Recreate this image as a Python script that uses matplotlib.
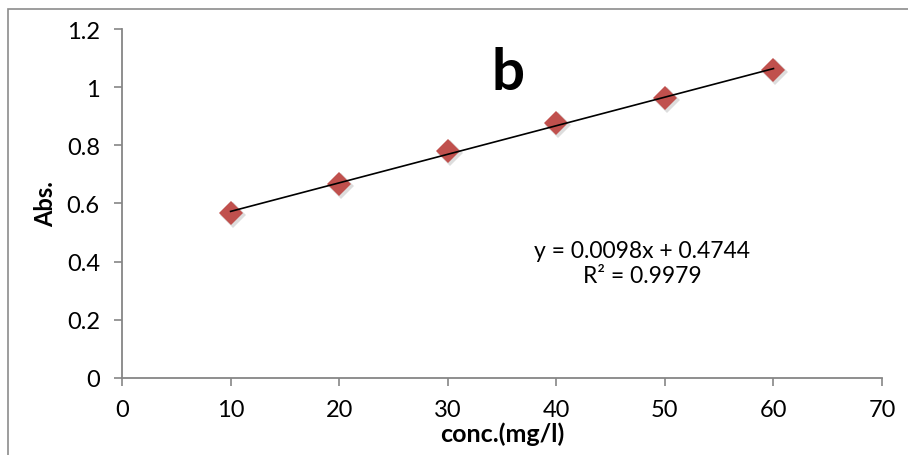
import numpy as np
from matplotlib import pyplot as plt
from matplotlib.patches import Rectangle
from matplotlib.transforms import ScaledTranslation

plt.rcParams['font.family'] = ['Lato', 'DejaVu Sans']

# data
conc = [10, 20, 30, 40, 50, 60]
absorb = [0.567, 0.667, 0.779, 0.877, 0.962, 1.058]
x_ticks = [0, 10, 20, 30, 40, 50, 60, 70]
y_ticks = [0, 0.2, 0.4, 0.6, 0.8, 1.0, 1.2]
y_labels = ['0', '0.2', '0.4', '0.6', '0.8', '1', '1.2']
eq_text = 'y = 0.0098x + 0.4744\nR² = 0.9979'

fig = plt.figure(figsize=(9.08, 4.56), dpi=100)
ax = fig.add_axes([0.1344, 0.1689, 0.837, 0.7653])

# outer chart border
fig.patches.append(Rectangle((8 / 908, -0.1), 1.2, 1 - 10 / 456 + 0.1,
                             transform=fig.transFigure, fill=False,
                             edgecolor='#8c8c8c', linewidth=1.2))

# linear trendline
k, b = np.polyfit(conc, absorb, 1)
xs = np.array([conc[0], conc[-1]])
ax.plot(xs, k * xs + b, color='black', linewidth=1.2, zorder=3)

# marker shadow + markers
shadow = ax.transData + ScaledTranslation(2 / 100, -2 / 100, fig.dpi_scale_trans)
ax.plot(conc, absorb, linestyle='none', marker='D', markersize=13,
        color='#aaaaaa', alpha=0.4, markeredgewidth=0,
        transform=shadow, zorder=2)
ax.plot(conc, absorb, linestyle='none', marker='D', markersize=12.5,
        color='#c0504d', markeredgewidth=0, zorder=2.5)

ax.set_xlim(0, 70)
ax.set_ylim(0, 1.2)
ax.set_xticks(x_ticks)
ax.set_yticks(y_ticks)
ax.set_yticklabels(y_labels)

for s in ['top', 'right']:
    ax.spines[s].set_visible(False)
for s in ['left', 'bottom']:
    ax.spines[s].set_color('#868686')
    ax.spines[s].set_linewidth(1.3)
ax.tick_params(direction='out', length=6, width=1.2, color='#868686',
               labelsize=17, pad=10)
ax.tick_params(axis='x', pad=9)

ax.set_xlabel('conc.(mg/l)', fontsize=18, fontweight='bold', labelpad=1)
ax.set_ylabel('Abs.', fontsize=17, fontweight='bold', labelpad=7)

ax.text(0.508, 0.875, 'b', transform=ax.transAxes, fontsize=42,
        fontweight='bold', ha='center', va='center')
ax.text(0.684, 0.33, eq_text, transform=ax.transAxes, fontsize=16.5,
        ha='center', va='center', linespacing=1.25)

fig.savefig('out.png', dpi=100)
